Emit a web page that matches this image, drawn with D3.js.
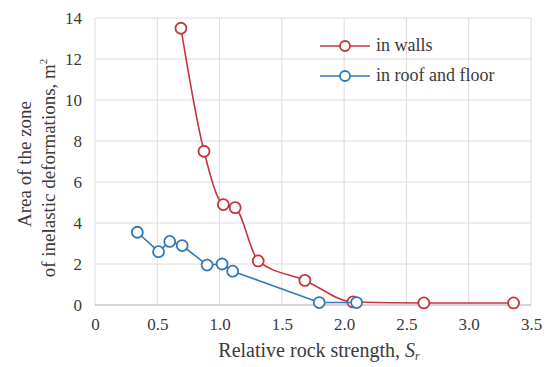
<!DOCTYPE html>
<html><head><meta charset="utf-8">
<script src="https://cdn.jsdelivr.net/npm/d3@7"></script>
<style>body{margin:0;background:#fff}svg{display:block}</style>
</head><body><svg id="c" width="552" height="367" font-family="serif"></svg>
<script>
const wallsX = [0.69, 0.875, 1.03, 1.125, 1.31, 1.685, 2.07, 2.64, 3.36];
const wallsY = [13.5, 7.5, 4.9, 4.75, 2.15, 1.2, 0.15, 0.1, 0.1];
const roofX = [0.34, 0.51, 0.60, 0.70, 0.90, 1.02, 1.105, 1.80, 2.10];
const roofY = [3.55, 2.6, 3.1, 2.9, 1.95, 2.0, 1.65, 0.12, 0.12];
const xTicks = [0, 0.5, 1.0, 1.5, 2.0, 2.5, 3.0, 3.5];
const xTickLabels = ["0", "0.5", "1.0", "1.5", "2.0", "2.5", "3.0", "3.5"];
const yTicks = [0, 2, 4, 6, 8, 10, 12, 14];
const seriesNames = ["in walls", "in roof and floor"];
const colors = ["#c4363c", "#3179b8"];
const FONT = "Times New Roman, Liberation Serif, serif";
const TXT = "#3a3a3a";

const svg = d3.select("#c");
const x = d3.scaleLinear().domain([0, 3.5]).range([95, 531]);
const y = d3.scaleLinear().domain([0, 14]).range([305, 18]);

// grid
svg.append("g").selectAll("line").data(yTicks).join("line")
  .attr("x1", x(0)).attr("x2", x(3.5)).attr("y1", d => y(d)).attr("y2", d => y(d))
  .attr("stroke", "#dcdcdc").attr("stroke-width", 1);
svg.append("g").selectAll("line").data(xTicks).join("line")
  .attr("y1", y(0)).attr("y2", y(14)).attr("x1", d => x(d)).attr("x2", d => x(d))
  .attr("stroke", "#dcdcdc").attr("stroke-width", 1);
svg.append("line").attr("x1", x(0)).attr("x2", x(3.5)).attr("y1", y(0)).attr("y2", y(0))
  .attr("stroke", "#bdbdbd").attr("stroke-width", 1.2);

// axes
const xa = svg.append("g").attr("transform", `translate(0,${y(0)})`)
  .call(d3.axisBottom(x).tickValues(xTicks).tickFormat((d, i) => xTickLabels[i]).tickSize(0).tickPadding(13));
xa.attr("font-family", FONT).attr("font-size", 17);
xa.select(".domain").remove();
const ya = svg.append("g").attr("transform", `translate(${x(0)},0)`)
  .call(d3.axisLeft(y).tickValues(yTicks).tickSize(0).tickPadding(13));
ya.attr("font-family", FONT).attr("font-size", 17);
ya.select(".domain").remove();

// axis titles
const xt = svg.append("text").attr("x", 319).attr("y", 357).attr("text-anchor", "middle").attr("font-size", 20);
xt.append("tspan").text("Relative rock strength, ");
xt.append("tspan").attr("font-style", "italic").text("S");
xt.append("tspan").attr("font-size", 12).attr("dy", 3).attr("font-style", "italic").text("r");

const yt = svg.append("text").attr("transform", "translate(31,164) rotate(-90)").attr("text-anchor", "middle").attr("font-size", 19);
yt.append("tspan").text("Area of the zone");
const l2 = svg.append("text").attr("transform", "translate(55,168) rotate(-90)").attr("text-anchor", "middle").attr("font-size", 19);
l2.append("tspan").text("of inelastic deformations, m");
l2.append("tspan").attr("font-size", 11).attr("dy", -8).text("2");

// series
const series = [
  wallsX.map((v, i) => [v, wallsY[i]]),
  roofX.map((v, i) => [v, roofY[i]])
];
const curves = [d3.curveMonotoneX, d3.curveLinear];
series.forEach((s, k) => {
  const line = d3.line().x(d => x(d[0])).y(d => y(d[1])).curve(curves[k]);
  svg.append("path").datum(s).attr("d", line).attr("fill", "none")
    .attr("stroke", colors[k]).attr("stroke-width", 1.6);
  svg.append("g").selectAll("circle").data(s).join("circle")
    .attr("cx", d => x(d[0])).attr("cy", d => y(d[1])).attr("r", 5.5)
    .attr("fill", "#fff").attr("stroke", colors[k]).attr("stroke-width", 1.8);
});

// legend
seriesNames.forEach((n, k) => {
  const ly = 46 + k * 30;
  svg.append("line").attr("x1", 320).attr("x2", 370).attr("y1", ly).attr("y2", ly)
    .attr("stroke", colors[k]).attr("stroke-width", 1.6);
  svg.append("circle").attr("cx", 345).attr("cy", ly).attr("r", 5)
    .attr("fill", "#fff").attr("stroke", colors[k]).attr("stroke-width", 1.8);
  svg.append("text").attr("x", 376).attr("y", ly + 5).attr("font-size", 18).text(n);
});

svg.selectAll("text").attr("font-family", FONT).attr("fill", TXT);
</script></body></html>
